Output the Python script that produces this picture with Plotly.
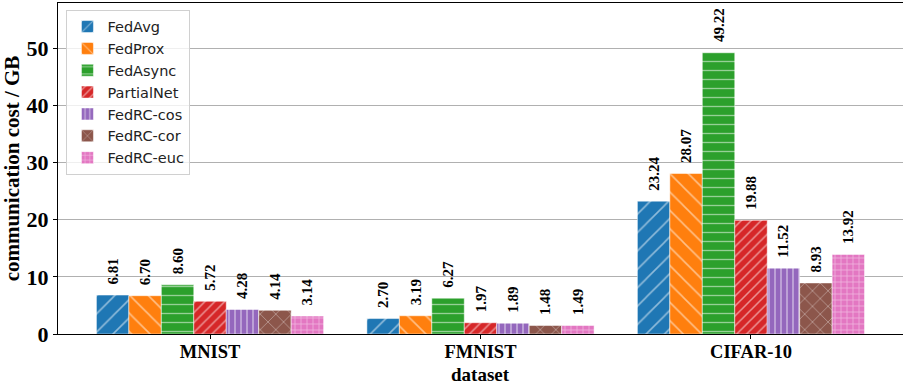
import plotly.graph_objects as go

datasets = ["MNIST", "FMNIST", "CIFAR-10"]
methods = ["FedAvg", "FedProx", "FedAsync", "PartialNet", "FedRC-cos", "FedRC-cor", "FedRC-euc"]
values = {
    "FedAvg": [6.81, 2.70, 23.24],
    "FedProx": [6.70, 3.19, 28.07],
    "FedAsync": [8.60, 6.27, 49.22],
    "PartialNet": [5.72, 1.97, 19.88],
    "FedRC-cos": [4.28, 1.89, 11.52],
    "FedRC-cor": [4.14, 1.48, 8.93],
    "FedRC-euc": [3.14, 1.49, 13.92],
}
colors = ["#1f77b4", "#ff7f0e", "#2ca02c", "#d62728", "#9467bd", "#8c564b", "#e377c2"]
patterns = [("/", 13, 0.12), ("\\", 13, 0.12), ("-", 9, 0.15), ("/", 7, 0.22),
            ("|", 6, 0.25), ("x", 11, 0.12), ("+", 6, 0.22)]

fig = go.Figure()
for m, c, (shape, size, sol) in zip(methods, colors, patterns):
    fig.add_trace(go.Bar(
        name=m, x=datasets, y=values[m],
        marker=dict(color=c, line=dict(color="white", width=0.5),
                    pattern=dict(shape=shape, size=size, solidity=sol,
                                 fgcolor="white", fillmode="overlay")),
        text=["\u00a0\u00a0" + f"{v:.2f}" for v in values[m]],
        textposition="outside", textangle=-90,
        textfont=dict(family="Liberation Serif", size=15, color="black", weight="bold"),
        cliponaxis=False, constraintext="none",
    ))

fig.update_layout(
    width=903, height=387, barmode="group", bargap=0.16, bargroupgap=0,
    margin=dict(l=58, r=0, t=3, b=53),
    plot_bgcolor="white", paper_bgcolor="white",
    legend=dict(x=0.01, y=0.98, xanchor="left", yanchor="top",
                bgcolor="rgba(255,255,255,0.8)", bordercolor="#d0d0d0", borderwidth=1,
                font=dict(family="DejaVu Sans", size=14.5, color="#222")),
    xaxis=dict(range=[-0.562, 2.562], showline=True, linecolor="black", linewidth=1,
               mirror=True, ticks="outside", ticklen=4, tickcolor="black",
               ticklabelstandoff=-3,
               tickfont=dict(family="Liberation Serif", size=18.5, color="black", weight="bold")),
    yaxis=dict(range=[0, 57.9], showline=True, linecolor="black", linewidth=1,
               ticks="outside", ticklen=4, tickcolor="black", dtick=10,
               showgrid=True, gridcolor="#b0b0b0", gridwidth=1, zeroline=False,
               tickfont=dict(family="Liberation Serif", size=22, color="black", weight="bold"),
               title=dict(text="communication cost / GB", standoff=4,
                          font=dict(family="Liberation Serif", size=21, color="black", weight="bold"))),
    annotations=[dict(text="dataset", xref="paper", yref="paper", x=0.5, y=-0.122,
                      xanchor="center", yanchor="middle", showarrow=False,
                      font=dict(family="Liberation Serif", size=19, color="black", weight="bold"))],
)

fig.write_html("out.html")
